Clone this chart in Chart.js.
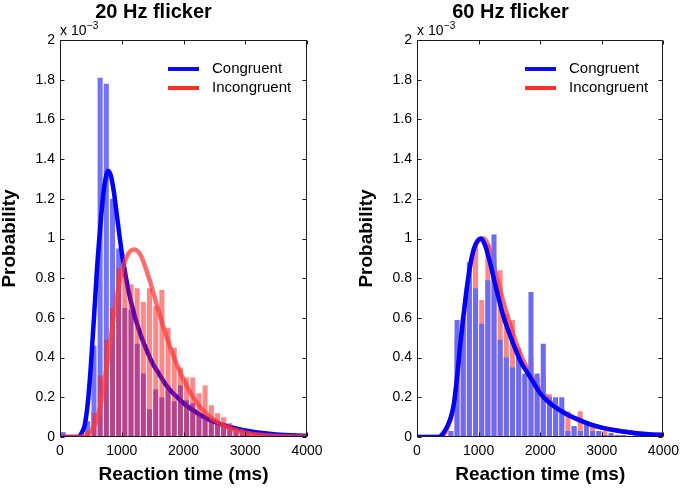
<!DOCTYPE html>
<html><head><meta charset="utf-8">
<script src="https://cdn.jsdelivr.net/npm/chart.js@4.4.1/dist/chart.umd.min.js"></script>
<style>
html,body{margin:0;padding:0;background:#fff;overflow:hidden;}
#w{position:relative;width:685px;height:488px;}
canvas{position:absolute;top:0;}
</style></head><body>
<div id="w">
<canvas id="c1" style="left:0px;width:343px;height:488px" width="343" height="488"></canvas>
<canvas id="c2" style="left:357px;width:328px;height:488px" width="328" height="488"></canvas>
</div>
<script>
// ---- data (probability in units of 1e-3) ----
const binCenters = [50,150,250,350,450,550,650,750,850,950,1050,1150,1250,1350,1450,1550,1650,1750,1850,1950,
  2050,2150,2250,2350,2450,2550,2650,2750,2850,2950,3050,3150,3250,3350,3450,3550,3650,3750,3850,3950];

const hz20CongruentBars = [0.025,0,0,0.01,0.08,0.46,1.81,1.78,1.2,0.95,0.65,0.64,0.47,0.32,0.14,0.24,0.2,0.26,0.18,0.26,
  0.185,0.17,0.12,0.1,0.08,0.06,0.07,0.05,0.04,0.03,0.03,0.02,0.02,0.01,0.01,0.01,0.005,0.005,0,0];
const hz20IncongruentBars = [0,0,0,0.01,0.03,0.12,0.31,0.49,0.65,0.85,0.84,0.77,0.75,0.68,0.75,0.66,0.74,0.55,0.45,0.35,
  0.3,0.3,0.22,0.26,0.16,0.12,0.1,0.07,0.05,0.04,0.03,0.02,0.02,0.01,0.01,0.01,0.005,0.005,0.003,0];
const hz60CongruentBars = [0,0,0,0,0,0.03,0.59,0.6,0.88,0.75,0.57,0.79,1.02,0.49,0.4,0.35,0.41,0.32,0.73,0.32,
  0.47,0.2,0.2,0.2,0.03,0.055,0.03,0.06,0.03,0.03,0.01,0.02,0.01,0.01,0.005,0.01,0.005,0.005,0,0];
const hz60IncongruentBars = [0,0,0,0,0,0.02,0.5,0.55,0.8,0.97,0.69,0.97,0.9,0.84,0.62,0.59,0.45,0.3,0.4,0.3,
  0.3,0.215,0.15,0.15,0.13,0.05,0.13,0.04,0.05,0.03,0.03,0.01,0.01,0.01,0.005,0.005,0.003,0.003,0,0];

const hz20CongruentFitX = [0,300,350,400,450,500,550,600,650,700,750,780,820,870,920,1000,1100,1200,1300,1400,1500,1600,1700,1800,1900,2000,2200,2400,2600,2800,3000,3200,3500,4000];
const hz20CongruentFitY = [0,0,0.02,0.06,0.17,0.36,0.6,0.85,1.05,1.22,1.32,1.34,1.32,1.24,1.12,0.93,0.75,0.62,0.52,0.44,0.37,0.32,0.27,0.23,0.2,0.17,0.125,0.09,0.065,0.047,0.033,0.023,0.013,0.005];
const hz20IncongruentFitX = [0,300,400,500,600,700,800,900,1000,1100,1200,1300,1400,1500,1600,1700,1800,1900,2000,2100,2200,2300,2400,2500,2600,2800,3000,3200,3400,3700,4000];
const hz20IncongruentFitY = [0,0,0.005,0.03,0.09,0.24,0.45,0.67,0.83,0.92,0.945,0.92,0.84,0.74,0.63,0.53,0.44,0.36,0.29,0.23,0.18,0.14,0.11,0.085,0.065,0.038,0.022,0.013,0.008,0.004,0.002];
const hz60CongruentFitX = [0,350,400,450,500,550,600,650,700,750,800,850,900,950,1000,1040,1100,1150,1200,1300,1400,1500,1600,1700,1800,1900,2000,2200,2400,2600,2800,3000,3200,3400,3600,3800,4000];
const hz60CongruentFitY = [0,0,0.01,0.03,0.06,0.1,0.17,0.3,0.46,0.6,0.73,0.84,0.92,0.97,0.995,1.0,0.97,0.92,0.86,0.73,0.61,0.52,0.44,0.37,0.32,0.27,0.22,0.16,0.12,0.09,0.065,0.047,0.035,0.025,0.018,0.013,0.01];
const hz60IncongruentFitX = [0,400,500,600,700,800,900,1000,1080,1150,1250,1350,1450,1550,1650,1800,2000,2200,2400,2600,2800,3000,3300,3600,4000];
const hz60IncongruentFitY = [0,0,0.05,0.16,0.45,0.72,0.92,0.99,1.0,0.97,0.86,0.74,0.63,0.53,0.44,0.34,0.24,0.17,0.12,0.09,0.065,0.047,0.03,0.018,0.01];

const xTickLabels = ['0','1000','2000','3000','4000'];
const yTickLabels = ['0','0.2','0.4','0.6','0.8','1','1.2','1.4','1.6','1.8','2'];
const seriesNames = ['Congruent','Incongruent'];
const panelTitles = ['20 Hz flicker','60 Hz flicker'];

const FONT = "'Liberation Sans', Arial, Helvetica, sans-serif";

function pts(xs, ys){ return xs.map((x,i)=>({x:x, y:ys[i]})); }

const framePlugin = {
  id: 'frame',
  afterDatasetsDraw(chart){
    const {ctx, chartArea:a, scales:{x, y}} = chart;
    ctx.save();
    ctx.strokeStyle = '#1a1a1a';
    ctx.lineWidth = 1;
    const L = Math.round(a.left)+0.5, R = Math.round(a.right)-0.5, T = Math.round(a.top)+0.5, B = Math.round(a.bottom)-0.5;
    ctx.beginPath();
    ctx.rect(L, T, R-L, B-T);
    x.ticks.forEach(t=>{
      const px = Math.round(x.getPixelForValue(t.value))+0.5;
      ctx.moveTo(px, B); ctx.lineTo(px, B-4);
      ctx.moveTo(px, T); ctx.lineTo(px, T+4);
    });
    y.ticks.forEach(t=>{
      const py = Math.round(y.getPixelForValue(t.value))+0.5;
      ctx.moveTo(L, py); ctx.lineTo(L+4, py);
      ctx.moveTo(R, py); ctx.lineTo(R-4, py);
    });
    ctx.stroke();
    // exponent label
    ctx.fillStyle = '#000';
    ctx.textBaseline = 'alphabetic';
    ctx.textAlign = 'left';
    ctx.font = '14px ' + FONT;
    const base = 'x 10';
    ctx.fillText(base, a.left, a.top - 5);
    const w = ctx.measureText(base).width;
    ctx.font = '10px ' + FONT;
    ctx.fillText('\u22123', a.left + w + 0.5, a.top - 11);
    // legend
    const items = chart.options.plugins.frame.legend;
    items.forEach((it, i)=>{
      const yy = a.top + 29 + i*19;
      ctx.strokeStyle = it.color;
      ctx.lineWidth = 4;
      ctx.beginPath();
      ctx.moveTo(a.left + 108, yy); ctx.lineTo(a.left + 139, yy);
      ctx.stroke();
      ctx.fillStyle = '#000';
      ctx.font = '15px ' + FONT;
      ctx.textBaseline = 'middle';
      ctx.fillText(it.label, a.left + 152, yy);
    });
    ctx.restore();
  }
};

function makeChart(id, cfg){
  const barCommon = {type:'bar', borderWidth:0, barPercentage:0.82, categoryPercentage:1, grouped:false};
  const lineCommon = {type:'line', pointRadius:0, borderWidth:4.5, fill:false, cubicInterpolationMode:'monotone'};
  return new Chart(document.getElementById(id), {
    type: 'bar',
    data: { datasets: [
      Object.assign({}, barCommon, {label: cfg.names[0]+' bars', data: pts(binCenters, cfg.bars1), backgroundColor: cfg.bar1Color, order: 4}),
      Object.assign({}, lineCommon, {label: cfg.names[0], data: pts(cfg.fit1x, cfg.fit1y), borderColor: cfg.line1Color, order: 3}),
      Object.assign({}, barCommon, {label: cfg.names[1]+' bars', data: pts(binCenters, cfg.bars2), backgroundColor: cfg.bar2Color, order: 2}),
      Object.assign({}, lineCommon, {label: cfg.names[1], data: pts(cfg.fit2x, cfg.fit2y), borderColor: cfg.line2Color, order: 1})
    ]},
    options: {
      responsive: false, animation: false, devicePixelRatio: 1,
      layout: {padding: {left: 0, right: cfg.padRight, top: 0, bottom: 0}},
      plugins: {
        legend: {display: false}, tooltip: {enabled: false},
        title: {display: true, text: cfg.title, color: '#000',
          font: {family: FONT, size: 20, weight: 'bold', lineHeight: 1.2}, padding: {top: 0, bottom: 16}},
        frame: {legend: cfg.legend}
      },
      scales: {
        x: {type: 'linear', min: 0, max: 4000, offset: false,
          afterFit: s => { s.height = 51; },
          grid: {display: false, drawTicks: false}, border: {display: false},
          ticks: {stepSize: 1000, padding: 6, color: '#000', autoSkip: false, maxRotation: 0,
            font: {family: FONT, size: 14}, callback: (v, i) => xTickLabels[i]},
          title: {display: true, text: 'Reaction time (ms)', color: '#000',
            font: {family: FONT, size: 19, weight: 'bold', lineHeight: 1.2}, padding: {top: 0, bottom: 2}}
        },
        y: {type: 'linear', min: 0, max: 2,
          afterFit: s => { s.width = 60; },
          grid: {display: false, drawTicks: false}, border: {display: false},
          ticks: {stepSize: 0.2, padding: 5, color: '#000', autoSkip: false,
            font: {family: FONT, size: 14}, callback: (v, i) => yTickLabels[i]},
          title: {display: true, text: 'Probability', color: '#000',
            font: {family: FONT, size: 19, weight: 'bold', lineHeight: 1.0}, padding: {top: 0, bottom: 0}}
        }
      }
    },
    plugins: [framePlugin]
  });
}

makeChart('c1', {
  title: panelTitles[0], padRight: 36, names: seriesNames,
  bars1: hz20CongruentBars, bars2: hz20IncongruentBars,
  fit1x: hz20CongruentFitX, fit1y: hz20CongruentFitY,
  fit2x: hz20IncongruentFitX, fit2y: hz20IncongruentFitY,
  bar1Color: 'rgba(0,0,255,0.55)', line1Color: '#0000ff',
  bar2Color: 'rgba(255,20,20,0.5)', line2Color: 'rgba(255,60,60,0.75)',
  legend: [{label: seriesNames[0], color: '#0a0aff'}, {label: seriesNames[1], color: '#ff3322'}]
});

makeChart('c2', {
  title: panelTitles[1], padRight: 21, names: seriesNames.slice().reverse(),
  bars1: hz60IncongruentBars, bars2: hz60CongruentBars,
  fit1x: hz60IncongruentFitX, fit1y: hz60IncongruentFitY,
  fit2x: hz60CongruentFitX, fit2y: hz60CongruentFitY,
  bar1Color: 'rgba(255,20,20,0.5)', line1Color: 'rgba(255,60,60,0.75)',
  bar2Color: 'rgb(108,108,242)', line2Color: '#0000ff',
  legend: [{label: seriesNames[0], color: '#0a0aff'}, {label: seriesNames[1], color: '#ff3322'}]
});
</script>
</body></html>
